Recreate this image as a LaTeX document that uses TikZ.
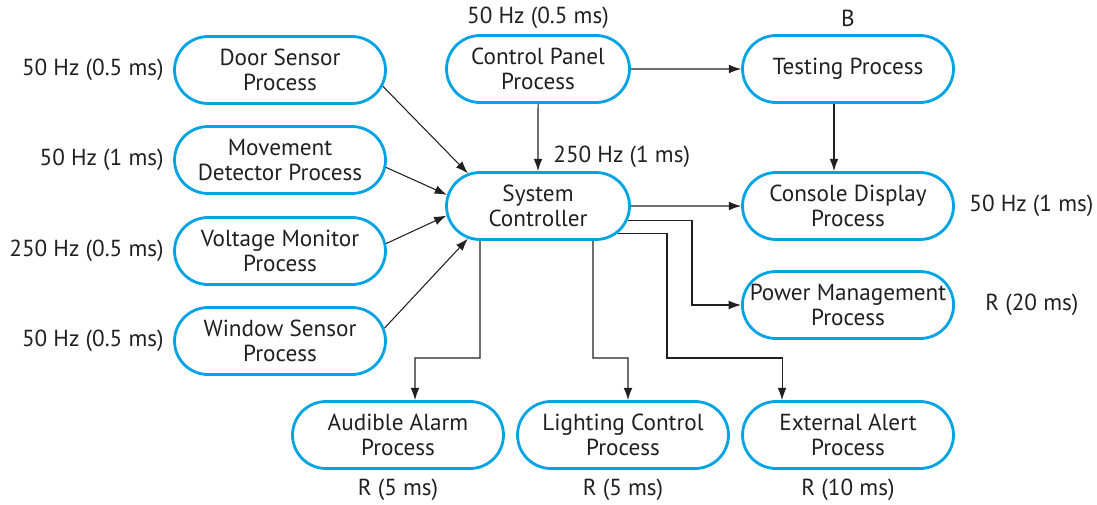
\documentclass[tikz,border=0pt]{standalone}
\usepackage{fontspec}
\setmainfont{PT Sans}
\usepackage{tikz}
\usetikzlibrary{arrows.meta,shapes.misc}

\definecolor{procblue}{RGB}{0,163,228}
\definecolor{ink}{RGB}{35,31,32}

\begin{document}
\begin{tikzpicture}[
    x=0.02cm, y=-0.02cm,
    every node/.style={font=\fontsize{13.2}{14.4}\selectfont, text=ink},
    pr/.style={rounded rectangle, draw=procblue, line width=1.6pt,
               minimum width=4.22cm, minimum height=1.34cm, inner sep=0pt,
               align=center},
    prs/.style={pr, minimum width=3.66cm},
    e/.style={draw=ink, line width=0.6pt, -{Latex[length=7pt, width=5pt]}},
    rt/.style={inner sep=0pt},
  ]
  \useasboundingbox (0,0) rectangle (1097,504);
  % processes
  \node[pr]  (door)  at (280, 70)  {Door Sensor\\Process};
  \node[pr]  (move)  at (280, 160) {Movement\\Detector Process};
  \node[pr]  (volt)  at (280, 251) {Voltage Monitor\\Process};
  \node[pr]  (win)   at (280, 341) {Window Sensor\\Process};
  \node[prs] (ctrl)  at (538, 69)  {Control Panel\\Process};
  \node[pr]  (test)  at (848, 69)  {Testing Process};
  \node[prs] (sc)    at (538, 206) {System\\Controller};
  \node[pr]  (disp)  at (848, 206) {Console Display\\Process};
  \node[pr]  (power) at (848, 305) {Power Management\\Process};
  \node[pr]  (alarm) at (398, 435) {Audible Alarm\\Process};
  \node[pr]  (light) at (623, 435) {Lighting Control\\Process};
  \node[pr]  (alert) at (848, 435) {External Alert\\Process};
  % rates
  \node[rt, anchor=east] (r1) at (164, 70)  {50 Hz (0.5 ms)};
  \node[rt, anchor=east] (r2) at (164, 160) {50 Hz (1 ms)};
  \node[rt, anchor=east] (r3) at (164, 251) {250 Hz (0.5 ms)};
  \node[rt, anchor=east] (r4) at (164, 341) {50 Hz (0.5 ms)};
  \node[rt] (r5) at (538, 18) {50 Hz (0.5 ms)};
  \node[rt] (r6) at (848, 18) {B};
  \node[rt, anchor=west] (r7) at (553, 157) {250 Hz (1 ms)};
  \node[rt, anchor=west] (r8) at (969, 206) {50 Hz (1 ms)};
  \node[rt, anchor=west] (r9) at (985, 305) {R (20 ms)};
  \node[rt] (r10) at (398, 490) {R (5 ms)};
  \node[rt] (r11) at (623, 490) {R (5 ms)};
  \node[rt] (r12) at (848, 490) {R (10 ms)};
  % connections
  \draw[e] (door.-9) -- (sc.155);
  \draw[e] (move.-4) -- (sc.173);
  \draw[e] (volt.4) -- (sc.186);
  \draw[e] (win.7) -- (sc.205);
  \draw[e] (ctrl) -- (sc);
  \draw[e] (ctrl) -- (test);
  \draw[e] ([xshift=-0.28cm]test.south) -- ([xshift=-0.28cm]disp.north);
  \draw[e] (sc) -- (disp);
  \draw[e] (sc.-9) -| (692, 305) -- (power.west);
  \draw[e] (sc.-19) -| (667, 358) -| ([xshift=-1.32cm]alert.north);
  \draw[e] ([xshift=1.1cm]sc.south) |- (628, 358) -- ([xshift=0.1cm]light.north);
  \draw[e] ([xshift=-1.16cm]sc.south) |- (415, 358) -- ([xshift=0.34cm]alarm.north);
\end{tikzpicture}
\end{document}
